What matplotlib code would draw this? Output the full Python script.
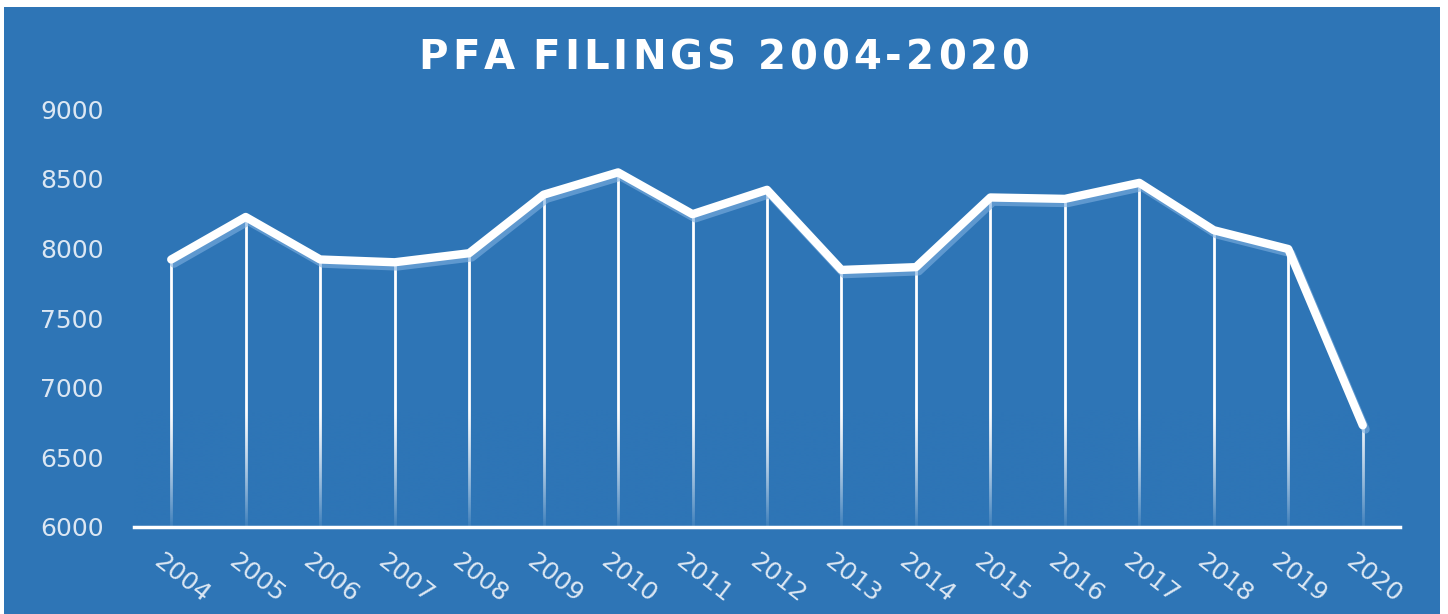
import numpy as np
import matplotlib
matplotlib.use('Agg')
import matplotlib.pyplot as plt
from matplotlib.patches import Rectangle
from matplotlib.transforms import ScaledTranslation
import matplotlib.patheffects as pe
from matplotlib.font_manager import FontProperties
from matplotlib.colors import to_rgb

years = ['2004', '2005', '2006', '2007', '2008', '2009', '2010', '2011', '2012',
         '2013', '2014', '2015', '2016', '2017', '2018', '2019', '2020']
filings = [7920, 8225, 7920, 7900, 7965, 8385, 8545, 8245, 8420,
           7845, 7865, 8365, 8355, 8470, 8130, 7995, 6730]
y_ticks = [6000, 6500, 7000, 7500, 8000, 8500, 9000]
title = 'PFA FILINGS 2004-2020'

BG = '#2E75B6'
LABEL = '#DCE7F3'
W, H = 1448, 614

fig = plt.figure(figsize=(W / 100, H / 100), dpi=100, facecolor='white')
bg = Rectangle((4 / W, 0), (1440 - 4) / W, (H - 7) / H,
               transform=fig.transFigure, facecolor=BG, edgecolor='none', zorder=-10)
fig.patches.append(bg)

ax = fig.add_axes([134 / W, 87 / H, (1400 - 134) / W, 418 / H])
ax.set_zorder(5)
ax.set_facecolor('none')
x = np.arange(len(years))

# drop lines
ax.vlines(x, y_ticks[0], filings, colors='white', linewidth=2.0, zorder=2)

# fade overlay (background colour, transparent at top -> nearly opaque at baseline)
fade_top = 6850
n = 256
t = np.linspace(0, 1, n)  # 0 at bottom, 1 at fade_top
alpha = np.clip(1 - t, 0, 1) ** 1.3 * 0.93
img = np.zeros((n, 2, 4))
img[..., :3] = to_rgb(BG)
img[..., 3] = alpha[:, None]
ax.imshow(img, extent=(-0.5, len(years) - 0.5, y_ticks[0], fade_top), origin='lower',
          aspect='auto', interpolation='bilinear', zorder=3)
ax.set_xlim(-0.5, len(years) - 0.5)
ax.set_ylim(y_ticks[0], y_ticks[-1])

# main line with shadow
ax.plot(x, filings, color='white', lw=6.0, solid_joinstyle='round',
        solid_capstyle='round', zorder=4,
        path_effects=[pe.SimpleLineShadow(offset=(2.0, -3.0), shadow_color='#7FB0E0', alpha=0.6),
                      pe.Normal()])

for s in ['top', 'right', 'left']:
    ax.spines[s].set_visible(False)
ax.spines['bottom'].set_color('white')
ax.spines['bottom'].set_linewidth(2.5)
ax.spines['bottom'].set_zorder(5)

ax.set_yticks(y_ticks)
ax.set_yticklabels([str(t) for t in y_ticks])
ax.set_xticks(x)
ax.set_xticklabels(years)
ax.tick_params(axis='y', length=0, pad=22, labelsize=18, labelcolor=LABEL)
ax.tick_params(axis='x', length=0, pad=16, labelsize=18, labelcolor=LABEL)
for lab in ax.get_xticklabels():
    lab.set_rotation(-38)
    lab.set_ha('left')
    lab.set_va('top')
    lab.set_rotation_mode('anchor')
    lab.set_transform(lab.get_transform() + ScaledTranslation(-7 / 100, 0, fig.dpi_scale_trans))

# letter-spaced title
fp = FontProperties(family='DejaVu Sans', weight='bold', size=29)
renderer = fig.canvas.get_renderer()
spacing = 4.0  # px
cum = [0.0]
for k in range(1, len(title) + 1):
    w, _, _ = renderer.get_text_width_height_descent(title[:k], fp, ismath=False)
    cum.append(w)
total = cum[-1] + spacing * (len(title) - 1)
x0 = W / 2 - total / 2
yc = H - 58
for k, ch in enumerate(title):
    if ch == ' ':
        continue
    fig.text((x0 + cum[k] + k * spacing) / W, yc / H, ch, fontproperties=fp,
             color='white', ha='left', va='center', zorder=6)

fig.savefig('out.png', dpi=100, facecolor=fig.get_facecolor())
